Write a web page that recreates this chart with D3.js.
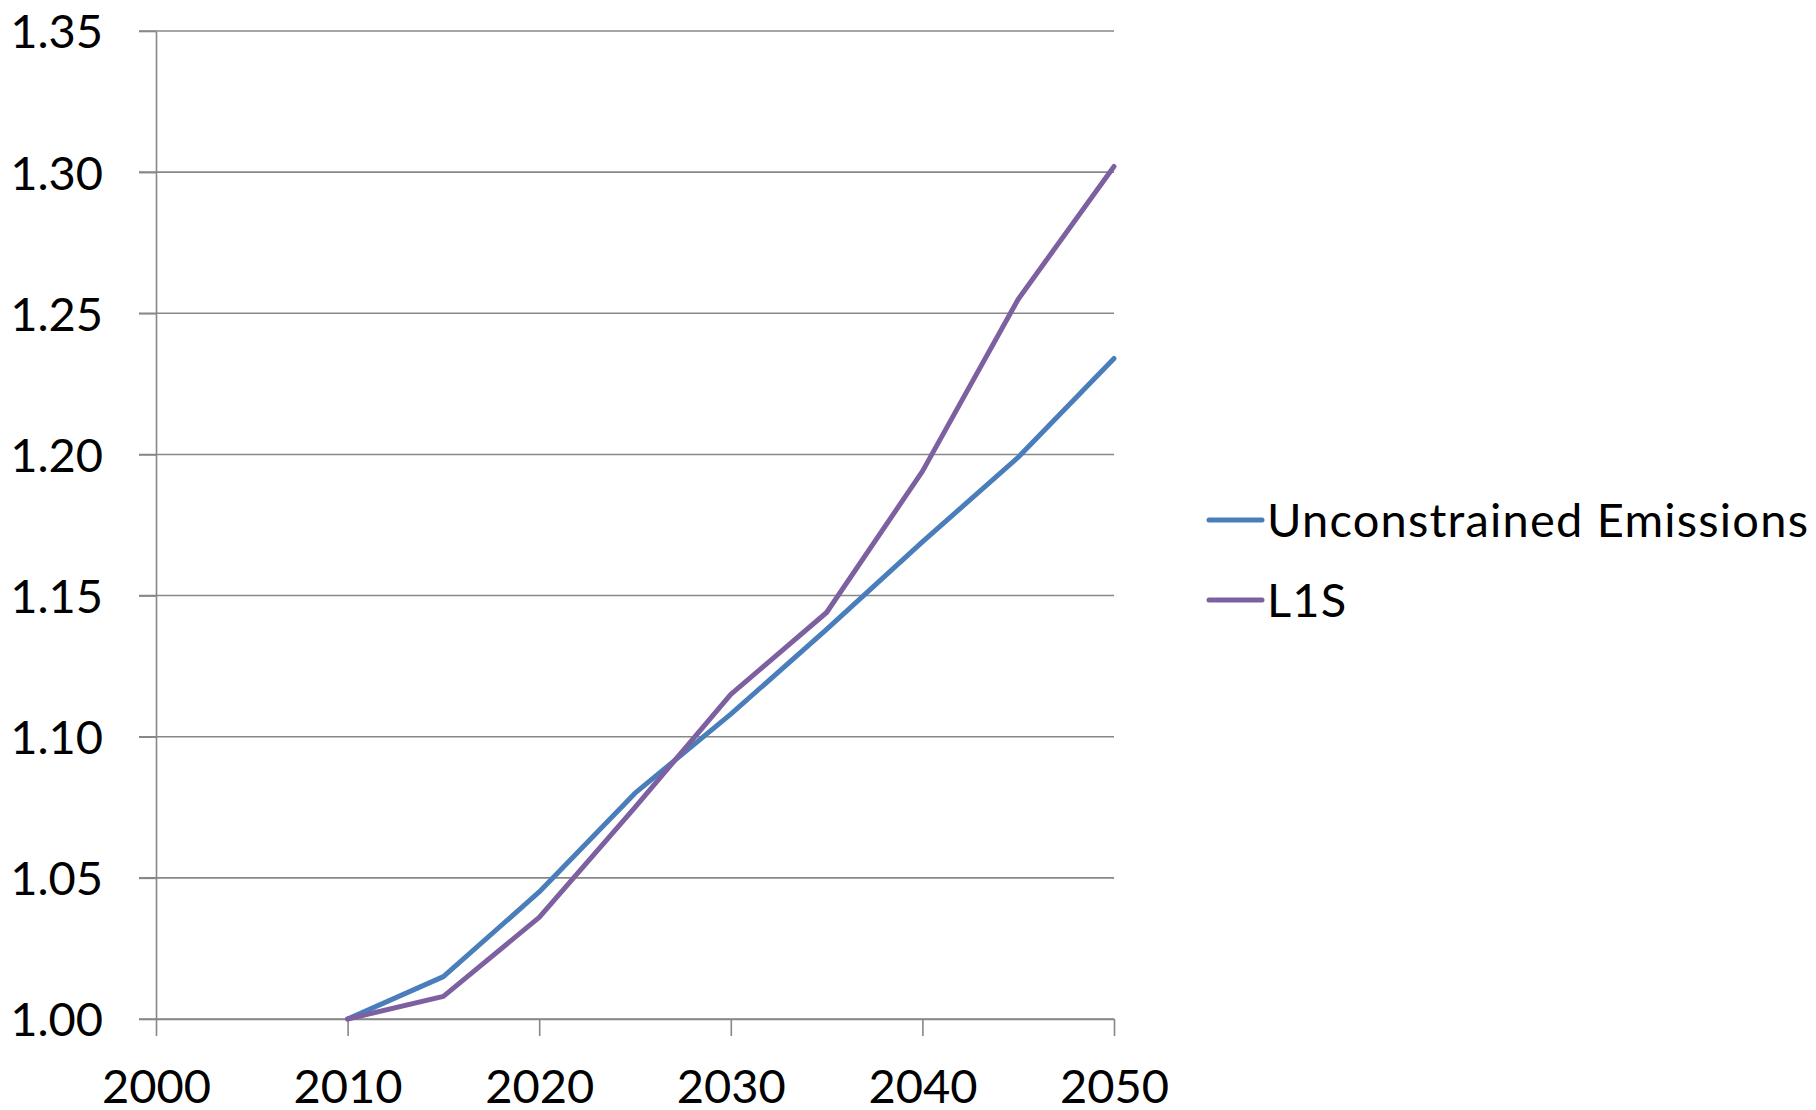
<!DOCTYPE html>
<html>
<head>
<meta charset="utf-8">
<script src="https://cdn.jsdelivr.net/npm/d3@7"></script>
<style>
  html, body { margin: 0; padding: 0; background: #ffffff; }
  svg { display: block; }
  text { font-family: Lato, "Open Sans", sans-serif; fill: #000; }
</style>
</head>
<body>
<svg id="chart" width="1816" height="1110"></svg>
<script>
// Years on the horizontal axis
const years = [2010, 2015, 2020, 2025, 2030, 2035, 2040, 2045, 2050];
// Index values (2010 = 1.00) for each scenario
const unconstrained = [1.000, 1.015, 1.045, 1.080, 1.108, 1.138, 1.169, 1.199, 1.234];
const l1s = [1.000, 1.008, 1.036, 1.075, 1.115, 1.144, 1.194, 1.255, 1.302];
const seriesNames = ["Unconstrained Emissions", "L1S"];
const seriesColors = ["#4a7ebb", "#7d60a0"];
const xTicks = [2000, 2010, 2020, 2030, 2040, 2050];
const yTicks = [1.00, 1.05, 1.10, 1.15, 1.20, 1.25, 1.30, 1.35];

const svg = d3.select("#chart");
const plotLeft = 156, plotRight = 1114, plotTop = 31, plotBottom = 1019;
const tickLen = 17;
const axisColor = "#878787";

const x = d3.scaleLinear().domain([2000, 2050]).range([plotLeft, plotRight]);
const y = d3.scaleLinear().domain([1.0, 1.35]).range([plotBottom, plotTop]);

svg.append("rect").attr("width", 1816).attr("height", 1110).attr("fill", "#fff");

// Horizontal gridlines (start at the outer end of the y tick)
svg.append("g")
  .selectAll("line")
  .data(yTicks)
  .join("line")
  .attr("x1", plotLeft - tickLen)
  .attr("x2", plotRight)
  .attr("y1", d => y(d))
  .attr("y2", d => y(d))
  .attr("stroke", axisColor)
  .attr("stroke-width", 1.6);

// Y axis
const yAxis = svg.append("g")
  .attr("transform", `translate(${plotLeft},0)`)
  .call(d3.axisLeft(y).tickValues(yTicks).tickFormat(d3.format(".2f")).tickSize(tickLen).tickSizeOuter(0));
yAxis.select(".domain").attr("stroke", axisColor).attr("stroke-width", 1.6);
yAxis.selectAll(".tick line").attr("stroke", axisColor).attr("stroke-width", 1.6);
yAxis.selectAll(".tick text")
  .attr("x", -53)
  .attr("dy", "0.36em")
  .style("font-size", "47px")
  .style("font-family", "Lato, sans-serif");

// X axis
const xAxis = svg.append("g")
  .attr("transform", `translate(0,${plotBottom})`)
  .call(d3.axisBottom(x).tickValues(xTicks).tickFormat(d3.format("d")).tickSize(tickLen).tickSizeOuter(0));
xAxis.select(".domain").attr("stroke", axisColor).attr("stroke-width", 1.6);
xAxis.selectAll(".tick line").attr("stroke", axisColor).attr("stroke-width", 1.6);
xAxis.selectAll(".tick text")
  .attr("y", 67)
  .attr("dy", "0.36em")
  .style("font-size", "47px")
  .style("font-family", "Lato, sans-serif");

// Series lines
const line = d3.line().x((d, i) => x(years[i])).y(d => y(d));
[unconstrained, l1s].forEach((vals, k) => {
  svg.append("path")
    .datum(vals)
    .attr("d", line)
    .attr("fill", "none")
    .attr("stroke", seriesColors[k])
    .attr("stroke-width", 5)
    .attr("stroke-linejoin", "round")
    .attr("stroke-linecap", "round");
});

// Legend
const legend = svg.append("g");
const legendY = [520, 600];
seriesNames.forEach((name, k) => {
  legend.append("line")
    .attr("x1", 1209).attr("x2", 1262)
    .attr("y1", legendY[k]).attr("y2", legendY[k])
    .attr("stroke", seriesColors[k])
    .attr("stroke-width", 5)
    .attr("stroke-linecap", "round");
  legend.append("text")
    .attr("x", 1267)
    .attr("y", legendY[k])
    .attr("dy", "0.36em")
    .style("font-size", "47px")
    .style("letter-spacing", "1.2px")
    .text(name);
});
</script>
</body>
</html>
